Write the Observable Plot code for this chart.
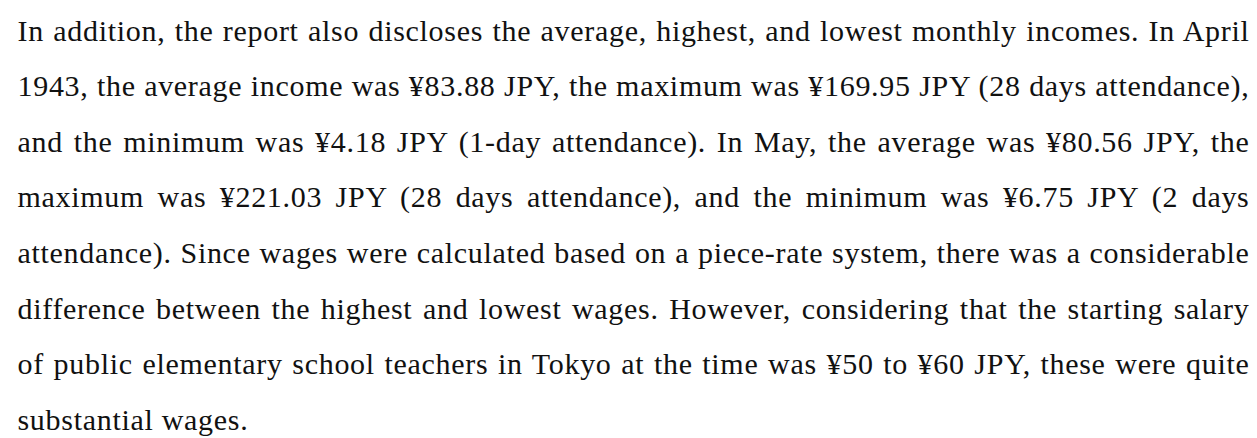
<!DOCTYPE html>
<html>
<head>
<meta charset="utf-8">
<script src="https://cdn.jsdelivr.net/npm/d3@7"></script>
<script src="https://cdn.jsdelivr.net/npm/@observablehq/plot@0.6"></script>
<style>
  html, body { margin: 0; padding: 0; background: #ffffff; }
  #chart svg { display: block; }
</style>
</head>
<body>
<div id="chart"></div>
<script>
// Paragraph lines, as they wrap in the reference
const lines = [
  "In addition, the report also discloses the average, highest, and lowest monthly incomes. In April",
  "1943, the average income was ¥83.88 JPY, the maximum was ¥169.95 JPY (28 days attendance),",
  "and the minimum was ¥4.18 JPY (1-day attendance). In May, the average was ¥80.56 JPY, the",
  "maximum was ¥221.03 JPY (28 days attendance), and the minimum was ¥6.75 JPY (2 days",
  "attendance). Since wages were calculated based on a piece-rate system, there was a considerable",
  "difference between the highest and lowest wages. However, considering that the starting salary",
  "of public elementary school teachers in Tokyo at the time was ¥50 to ¥60 JPY, these were quite",
  "substantial wages."
];
const lineIndex = lines.map((_, i) => i);

const W = 1257, H = 438;
const mL = 17, mR = 8;

const chart = Plot.plot({
  width: W,
  height: H,
  marginLeft: mL,
  marginRight: mR,
  marginTop: 0,
  marginBottom: 0,
  style: { background: "#ffffff", fontFamily: "'Liberation Serif', 'DejaVu Serif', serif" },
  x: { axis: null },
  y: { axis: null, type: "linear", domain: [0, lines.length - 1], range: [40, 429.5] },
  marks: [
    Plot.text(lineIndex, {
      y: d => d,
      text: d => lines[d],
      frameAnchor: "left",
      textAnchor: "start",
      lineAnchor: "bottom",
      fontSize: 30,
      fill: "#111111"
    })
  ]
});

document.getElementById("chart").appendChild(chart);

// justify every line except the last by spreading the extra room over the word gaps
const target = W - mL - mR;
const texts = chart.querySelectorAll("text");
texts.forEach((t, i) => {
  t.style.letterSpacing = "0.7px";
  if (i < texts.length - 1) {
    const natural = t.getComputedTextLength();
    const gaps = (t.textContent.match(/ /g) || []).length;
    if (gaps > 0) t.style.wordSpacing = ((target - natural) / gaps) + "px";
  }
});
</script>
</body>
</html>
